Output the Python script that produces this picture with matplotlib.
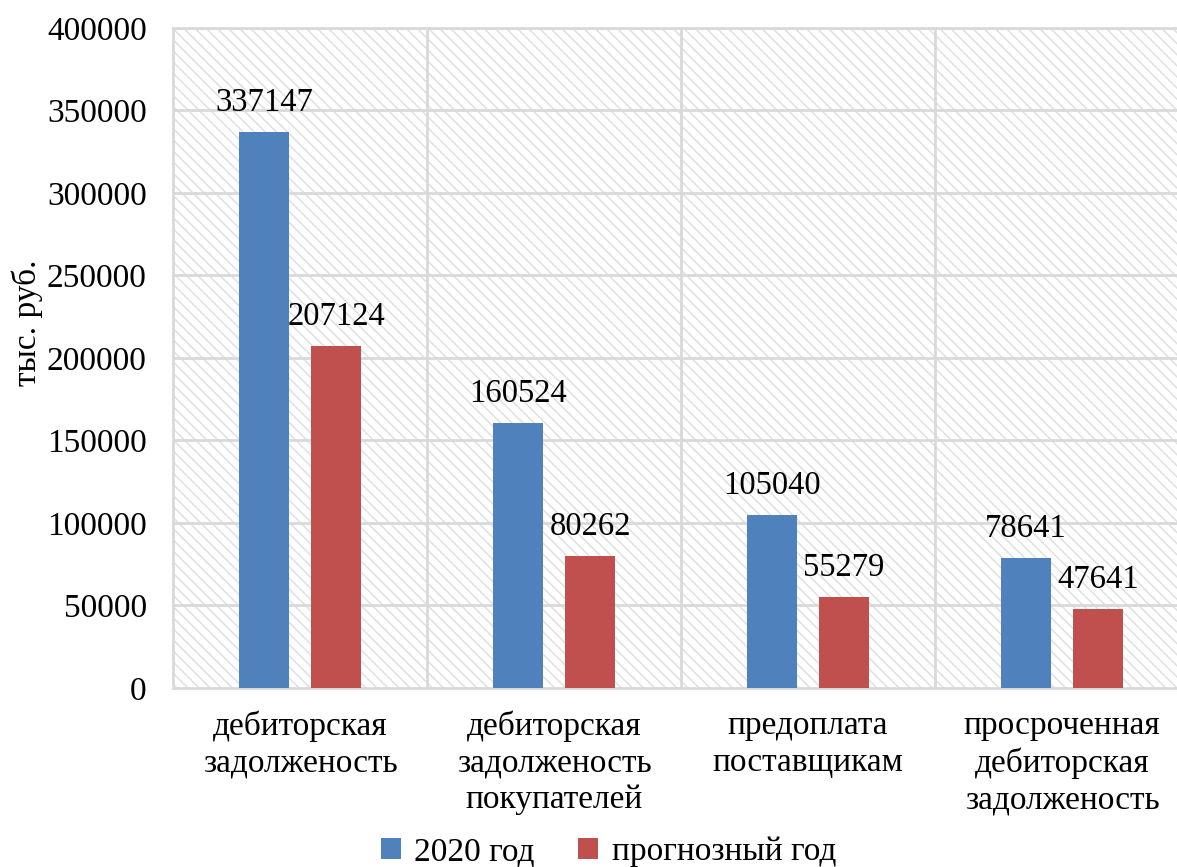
import matplotlib.pyplot as plt
import numpy as np

categories = ["дебиторская\nзадолженость",
              "дебиторская\nзадолженость\nпокупателей",
              "предоплата\nпоставщикам",
              "просроченная\nдебиторская\nзадолженость"]
values_2020 = [337147, 160524, 105040, 78641]
values_forecast = [207124, 80262, 55279, 47641]
series_names = ["2020 год", "прогнозный год"]

plt.rcParams['font.family'] = ['Liberation Serif', 'DejaVu Serif']
plt.rcParams['hatch.color'] = '#e0e0e0'
plt.rcParams['hatch.linewidth'] = 1.1

fig = plt.figure(figsize=(11.77, 8.67), dpi=100)
ax = fig.add_axes([0.147, 0.2065, 0.8632, 0.7612])

x = np.arange(len(categories))
w = 0.197
off = 0.142

ax.patch.set_facecolor('white')
ax.patch.set_hatch('\\\\\\')
ax.patch.set_edgecolor('#e0e0e0')

b1 = ax.bar(x - off, values_2020, w, color='#4F81BD', zorder=3, label=series_names[0])
b2 = ax.bar(x + off, values_forecast, w, color='#C0504D', zorder=3, label=series_names[1])

for bars, vals in [(b1, values_2020), (b2, values_forecast)]:
    for b, v in zip(bars, vals):
        ax.annotate(str(v), (b.get_x() + b.get_width() / 2, v), xytext=(0, 10),
                    textcoords='offset points', ha='center', va='bottom', fontsize=23.5)

ax.set_xlim(-0.5, len(categories) - 0.5)
ax.set_ylim(0, 400000)
ax.set_yticks(np.arange(0, 400001, 50000))
ax.set_yticklabels([str(v) for v in range(0, 400001, 50000)], fontsize=24)
ax.set_xticks(x)
ax.set_xticklabels(categories, fontsize=24, linespacing=1.27)
ax.tick_params(length=0, axis='y', pad=19)
ax.tick_params(length=0, axis='x', pad=16)

# grid lines: horizontal at ticks, vertical between categories
for yv in np.arange(50000, 400001, 50000):
    ax.axhline(yv, color='#d9d9d9', lw=2, zorder=1)
for xv in np.arange(0.5, len(categories) - 0.5, 1):
    ax.axvline(xv, color='#d9d9d9', lw=2, zorder=1)
for s in ax.spines.values():
    s.set_color('#d9d9d9')
    s.set_linewidth(2)

fig.text(27 / 1177, 1 - 323 / 867, "тыс. руб.", rotation=90, fontsize=24,
         ha='center', va='center')

fig.legend(handles=[b1, b2], labels=series_names, loc='lower center',
           bbox_to_anchor=(0.517, -0.035), ncol=2, frameon=False, fontsize=24,
           handlelength=0.6, handleheight=0.6, handletextpad=0.4, columnspacing=1.3)

fig.savefig("out.png", dpi=100)
